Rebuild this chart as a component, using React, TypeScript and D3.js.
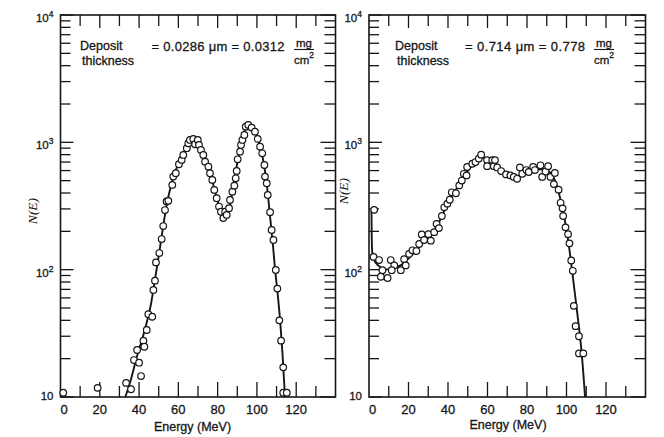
import * as d3 from "d3";

// x axis: energy (MeV), y axis: N(E) on a log scale
const xLabelTicks = [0, 20, 40, 60, 80, 100, 120];
const xMinorTicks = [10, 30, 50, 70, 90, 110, 130];
const decades = [10, 100, 1000, 10000];

// thin deposit, 0.0286 um
const leftPoints: [number, number][] = [
  [1.4, 10.8], [18.9, 11.8], [33.4, 12.9], [35.9, 11.5], [37.4, 19.5], [39, 23.4],
  [40, 18.6], [41, 14.6], [42.2, 27.7], [42.7, 24.8], [43.9, 33.6], [44.7, 44.7],
  [46.7, 42.7], [47.3, 69.3], [48.1, 82], [48.6, 114], [50.3, 135], [51.5, 174],
  [52.3, 220], [53.2, 294], [54.0, 343], [54.9, 347], [56.9, 463], [57.4, 538],
  [58.7, 572], [60.3, 673], [61.7, 728], [62.5, 796], [64.3, 899], [65.1, 984],
  [65.9, 1044], [67.6, 1064], [68.5, 966], [69.9, 1044], [70.5, 954], [71.5, 872],
  [72.7, 796], [73.6, 705], [75.3, 644], [76.1, 572], [77.3, 507], [78.3, 423],
  [79.5, 364], [80.7, 313], [81.7, 285], [82.9, 254], [83.8, 285], [84.6, 269],
  [85.8, 304], [86.3, 353], [87.5, 410], [88.5, 457], [89.2, 522], [89.7, 596],
  [90.2, 736], [91.4, 845], [91.9, 954], [92.6, 1044], [93.6, 1143], [94.3, 1328],
  [95.6, 1370], [97.3, 1305], [99, 1213], [100.4, 1064], [101.6, 925], [102.7, 820],
  [103.8, 664], [104.1, 538], [105, 477], [105.5, 386], [106.7, 283], [107.5, 205],
  [108.4, 171], [109.6, 99.5], [110.4, 71], [111.4, 40], [112.3, 27.7], [113.4, 17.1],
  [113.4, 10.8], [115.2, 10.8],
];

const leftFit: [number, number][] = [
  [33, 10], [36, 14], [39, 21], [42, 30], [44, 39], [46, 53], [48, 82], [50, 128],
  [52, 205], [54, 320], [56, 440], [58, 570], [60, 670], [62, 780], [64, 890],
  [66, 990], [68, 1040], [69.5, 1030], [71, 950], [73, 800], [75, 660], [77, 520],
  [79, 390], [81, 305], [83, 262], [84.5, 255], [86, 305], [88, 450], [90, 690],
  [92, 960], [94, 1250], [96, 1360], [97.5, 1330], [99, 1220], [101, 1000],
  [103, 750], [105, 470], [106.7, 260], [108, 165], [109.2, 102], [110.5, 66],
  [111.8, 40], [113, 22], [114.3, 10],
];

// thick deposit, 0.714 um
const rightPoints: [number, number][] = [
  [2.6, 295], [2.3, 126], [5.1, 119], [6.8, 99], [6.0, 88], [9.4, 86], [11.0, 119],
  [12.8, 108], [11.5, 99], [16.1, 99], [17.8, 121], [18.6, 108], [20.3, 133],
  [22.0, 142], [24.0, 140], [25.4, 159], [26.7, 189], [27.9, 171], [30.1, 190],
  [31.3, 169], [33.0, 197], [34.2, 229], [35.4, 212], [36.9, 264], [38.1, 309],
  [39.7, 330], [40.9, 354], [41.9, 405], [44.0, 398], [45.7, 459], [47.0, 501],
  [48.0, 566], [49.4, 550], [49.7, 640], [52.3, 679], [53.9, 700], [55.6, 745],
  [56.8, 800], [59.8, 725], [59.8, 650], [62.4, 725], [63.2, 650], [63.8, 725],
  [64.9, 635], [66.9, 595], [69.4, 560], [71.6, 550], [73.3, 535], [75.0, 517],
  [76.4, 635], [77.6, 566], [79.7, 606], [80.9, 585], [83.1, 640], [84.0, 606],
  [86.8, 660], [87.7, 535], [89.4, 590], [90.7, 650], [91.9, 535], [94.1, 575],
  [93.6, 470], [96.0, 425], [97.0, 335], [98.0, 303], [98.3, 264], [99.5, 215],
  [100.8, 190], [101.5, 161], [102.4, 118], [103.2, 98], [103.7, 52], [104.6, 36],
  [106.3, 30], [106.3, 22], [108.5, 22],
];

const rightFit: [number, number][] = [
  [1.25, 295], [1.35, 200], [1.6, 140], [2.5, 120], [5, 107], [8, 100], [12, 103],
  [16, 108], [20, 122], [25, 148], [30, 180], [35, 228], [40, 335], [45, 450],
  [50, 595], [55, 720], [57.5, 755], [60, 725], [65, 640], [70, 565], [74, 540],
  [78, 570], [83, 610], [88, 615], [92, 575], [95, 460], [98, 300], [100, 205],
  [102, 125], [103.4, 83], [105.5, 45], [107.7, 22], [109.4, 10],
];

const FONT = "'Liberation Sans', Arial, sans-serif";
const INK = "#161616";
const TOP = 15;
const BOTTOM = 397;

type PanelProps = {
  x0: number;
  x1: number;
  points: [number, number][];
  fit: [number, number][];
  microns: string;
  mass: string;
  eqX: number;
  eqWidth: number;
  depositX: number;
  fracX: number;
  nLabel: [number, number];
  energyLabel: [number, number];
};

function Panel({ x0, x1, points, fit, microns, mass, eqX, eqWidth, depositX, fracX, nLabel, energyLabel }: PanelProps) {
  const x = d3.scaleLinear().domain([0, 140]).range([x0, x1]);
  const y = d3.scaleLog().domain([10, 10000]).range([BOTTOM, TOP]);

  const line = d3
    .line<[number, number]>()
    .x((d) => x(d[0]))
    .y((d) => y(d[1]))
    .curve(d3.curveMonotoneX);

  const yTicks = y.ticks();
  const isDecade = (t: number) => decades.includes(Math.round(t));

  return (
    <g>
      {/* y ticks, inside on both sides */}
      {yTicks.map((t, i) => (
        <g key={"y" + i} stroke={INK} strokeWidth={1.3}>
          <line x1={x0} x2={x0 + (isDecade(t) ? 13 : 10)} y1={y(t)} y2={y(t)} />
          <line x1={x1} x2={x1 - (isDecade(t) ? 15 : 11)} y1={y(t)} y2={y(t)} />
        </g>
      ))}
      {/* x ticks, top and bottom */}
      {[...xLabelTicks.slice(1), ...xMinorTicks].map((t) => {
        const major = t % 20 === 0;
        return (
          <g key={"x" + t} stroke={INK} strokeWidth={1.3}>
            <line x1={x(t)} x2={x(t)} y1={BOTTOM} y2={BOTTOM - (major ? 15 : 11)} />
            <line x1={x(t)} x2={x(t)} y1={TOP} y2={TOP + (major ? 13 : 11)} />
          </g>
        );
      })}
      <rect x={x0} y={TOP} width={x1 - x0} height={BOTTOM - TOP} fill="none" stroke={INK} strokeWidth={1.6} />

      {/* tick labels */}
      <g fontFamily={FONT} fill={INK} stroke={INK} strokeWidth={0.3}>
        {decades.map((d) => {
          const e = Math.round(Math.log10(d));
          return (
            <text key={d} x={x0 - 7} y={y(d) + (e === 1 ? 3 : 7)} fontSize={11.5} textAnchor="end">
              10
              {e > 1 && (
                <tspan fontSize={8.5} dy={-5}>
                  {e}
                </tspan>
              )}
            </text>
          );
        })}
        {xLabelTicks.map((t) => (
          <text key={t} x={x(t) + (t === 0 ? 3.5 : 0)} y={413.5} fontSize={13} textAnchor="middle">
            {t}
          </text>
        ))}
        <text x={energyLabel[0]} y={energyLabel[1]} fontSize={12.5} textAnchor="middle">
          Energy (MeV)
        </text>
      </g>
      <text
        transform={`translate(${nLabel[0]},${nLabel[1]}) rotate(-90)`}
        fontFamily="'Liberation Serif', 'Times New Roman', serif"
        fontStyle="italic"
        fontSize={13.5}
        fill={INK}
        textAnchor="middle"
        dy={4}
      >
        N(E)
      </text>

      {/* annotation */}
      <g fontFamily={FONT} fill={INK} stroke={INK} strokeWidth={0.3}>
        <text x={depositX} y={49.5} fontSize={12.5}>Deposit</text>
        <text x={depositX + 2} y={64.5} fontSize={12.5}>thickness</text>
        <text x={eqX} y={50.5} fontSize={13} textLength={eqWidth} lengthAdjust="spacing">
          {`= ${microns} \u03bcm = ${mass}`}
        </text>
        <text x={fracX} y={46.5} fontSize={11.5} textAnchor="middle">mg</text>
        <line x1={fracX - 10} x2={fracX + 10} y1={49.5} y2={49.5} stroke={INK} strokeWidth={1.1} />
        <text x={fracX} y={64} fontSize={11.5} textAnchor="middle">
          cm<tspan fontSize={8.5} dy={-6}>2</tspan>
        </text>
      </g>

      {/* fitted curve and measured points */}
      <path d={line(fit) || undefined} fill="none" stroke={INK} strokeWidth={1.9} />
      <g fill="#fff" stroke={INK} strokeWidth={1.2}>
        {points.map((d, i) => (
          <circle key={i} cx={x(d[0])} cy={y(d[1])} r={3.3} />
        ))}
      </g>
    </g>
  );
}

export default function App() {
  return (
    <svg
      width={664}
      height={437}
      style={{ position: "absolute", left: 0, top: 0, background: "#fff" }}
    >
      <Panel
        x0={60.5}
        x1={335.5}
        points={leftPoints}
        fit={leftFit}
        microns="0.0286"
        mass="0.0312"
        eqX={151.5}
        eqWidth={133}
        depositX={80}
        fracX={304}
        nLabel={[33, 211]}
        energyLabel={[192.5, 431]}
      />
      <Panel
        x0={369}
        x1={645.5}
        points={rightPoints}
        fit={rightFit}
        microns="0.714"
        mass="0.778"
        eqX={465}
        eqWidth={120}
        depositX={395}
        fracX={604}
        nLabel={[343.5, 191]}
        energyLabel={[508, 429]}
      />
    </svg>
  );
}
